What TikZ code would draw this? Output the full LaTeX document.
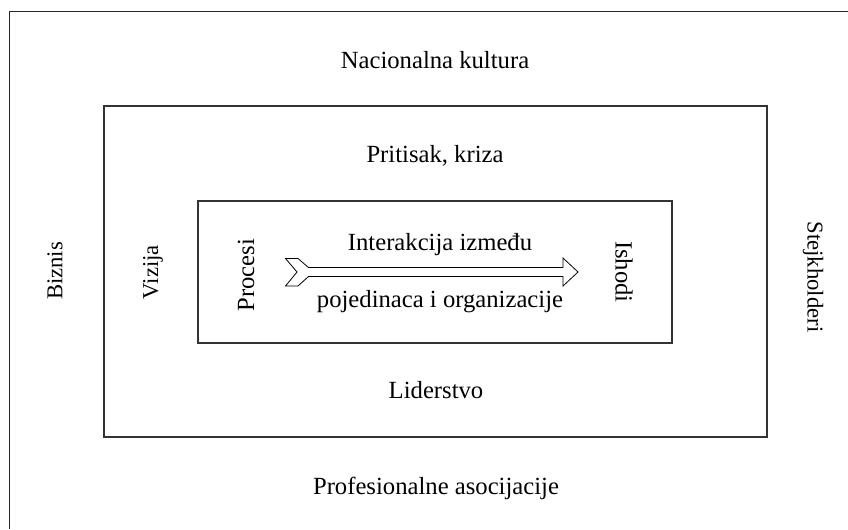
\documentclass[tikz,border=0pt]{standalone}
\usepackage{fontspec}
\setmainfont{Liberation Serif}
\begin{document}
\begin{tikzpicture}[x=0.75pt,y=-0.75pt,
  frame/.style={draw=black!85,line width=0.9pt},
  box/.style={draw=black!80,line width=0.8pt},
  lbl/.style={font=\fontsize{18.5pt}{20pt}\selectfont,inner sep=0pt},
  tlbl/.style={font=\fontsize{17pt}{19pt}\selectfont,inner sep=0pt},
  flow/.style={draw=black,line width=0.6pt,fill=white,line join=miter}]
\useasboundingbox (0,0) rectangle (848,529);
% outer frame (open at right and bottom)
\coordinate (ofbl) at (9.5,529);
\coordinate (oftl) at (9.5,11.5);
\coordinate (oftr) at (848,11.5);
\draw[frame] (ofbl) -- (oftl) -- (oftr);
% middle box
\node[box,minimum width=663*0.75pt,minimum height=331*0.75pt,inner sep=0pt] (mid) at (435.5,271.5) {};
% inner box
\node[box,minimum width=474*0.75pt,minimum height=142*0.75pt,inner sep=0pt] (inn) at (435,272) {};
% labels
\node[lbl] (nk) at (435,60) {Nacionalna kultura};
\node[lbl] (pk) at (435,156) {Pritisak, kriza};
\node[lbl] (li) at (436,390) {Liderstvo};
\node[lbl] (pa) at (436,488) {Profesionalne asocijacije};
\node[tlbl,rotate=90] (bz) at (55,271) {Biznis};
\node[tlbl,rotate=90] (vz) at (153,272) {Vizija};
\node[tlbl,rotate=-90] (sk) at (813,277) {Stejkholderi};
\node[lbl,rotate=90] (pr) at (246,275) {Procesi};
\node[lbl,rotate=-90] (is) at (624,272) {Ishodi};
\node[lbl] (ia) at (440,245) {Interakcija između};
\node[lbl] (po) at (440,302) {pojedinaca i organizacije};
% flow arrow
\coordinate (atail) at (285.5,272);
\coordinate (atip) at (578,272);
\draw[flow] (atail) ++(0,-13.5) -- ++(12.5,0) -- (308.5,267.5) -- (563,267.5)
  -- (563,258) -- (atip) -- (563,286) -- (563,276.5) -- (308.5,276.5)
  -- (298,286) -- (285.5,286) -- (297,272) -- cycle;
\end{tikzpicture}
\end{document}
